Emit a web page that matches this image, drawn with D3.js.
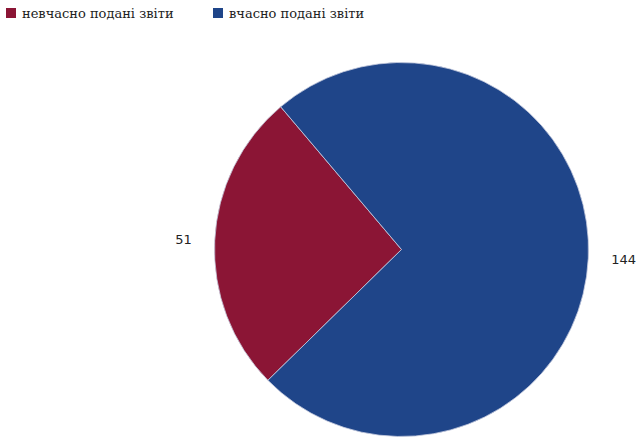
<!DOCTYPE html>
<html><head><meta charset="utf-8">
<script src="https://cdn.jsdelivr.net/npm/d3@7"></script>
<style>html,body{margin:0;padding:0;background:#fff;}svg{display:block;}</style>
</head><body>
<svg id="chart" width="637" height="437"></svg>
<script>
const categories = ["невчасно подані звіти", "вчасно подані звіти"];
const values = [51, 144];
const colors = ["#8B1535", "#1F4589"];

const svg = d3.select("#chart");
const cx = 401.5, cy = 249.5, r = 187;
const startDeg = 225.6;

const pie = d3.pie().sort(null)
  .startAngle(startDeg * Math.PI / 180)
  .endAngle((startDeg + 360) * Math.PI / 180);
const arcs = pie(values);
const arc = d3.arc().innerRadius(0).outerRadius(r);
const g = svg.append("g").attr("transform", `translate(${cx},${cy})`);
g.selectAll("path").data(arcs).enter().append("path")
  .attr("d", arc)
  .attr("fill", (d, i) => colors[i])
  .attr("stroke", "#c8cde0")
  .attr("stroke-width", 0.8);

const labelArc = d3.arc().innerRadius(210).outerRadius(210);
g.selectAll("text.lbl").data(arcs).enter().append("text")
  .attr("class", "lbl")
  .attr("x", d => labelArc.centroid(d)[0])
  .attr("y", d => labelArc.centroid(d)[1])
  .attr("dy", "0.35em")
  .attr("text-anchor", d => ((d.startAngle + d.endAngle) / 2) % (2 * Math.PI) > Math.PI ? "end" : "start")
  .style("font-family", "DejaVu Sans, sans-serif")
  .style("font-size", "13px")
  .attr("fill", "#222")
  .text(d => d.data);

const legendX = [6, 213];
const leg = svg.selectAll("g.leg").data(categories).enter().append("g")
  .attr("class", "leg")
  .attr("transform", (d, i) => `translate(${legendX[i]},8)`);
leg.append("rect").attr("width", 10).attr("height", 10)
  .attr("fill", (d, i) => colors[i]);
leg.append("text").attr("x", 16).attr("y", 10)
  .style("font-family", "DejaVu Serif, serif")
  .style("font-size", "13px")
  .attr("fill", "#222")
  .text(d => d);
</script>
</body></html>
